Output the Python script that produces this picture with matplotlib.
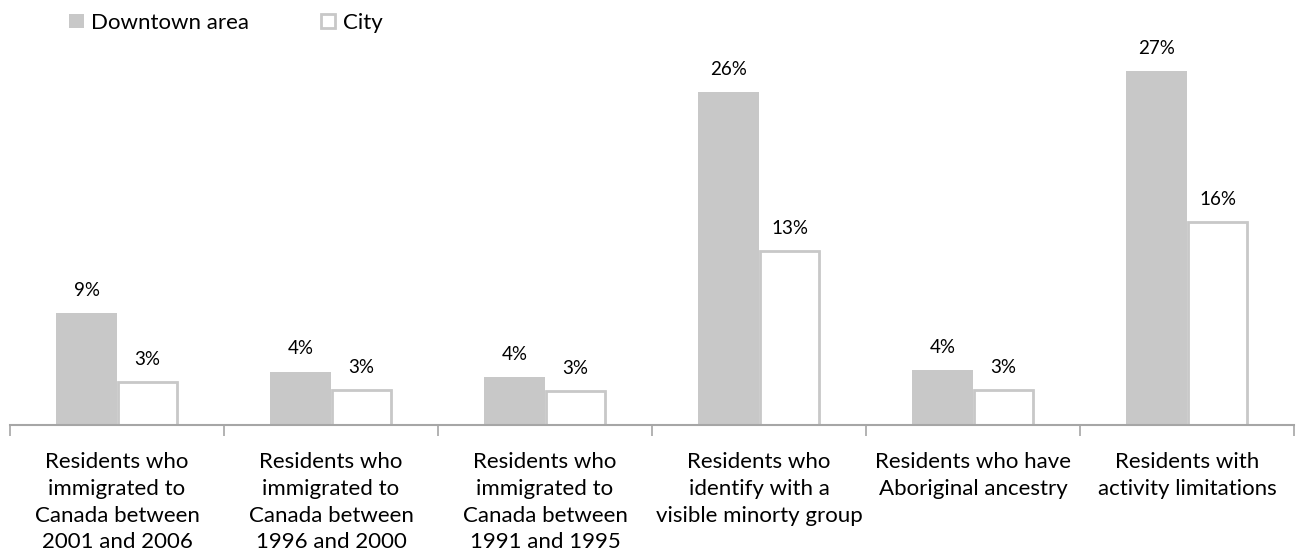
import numpy as np
import matplotlib
matplotlib.use("Agg")
import matplotlib.pyplot as plt
from matplotlib.patches import Rectangle

categories = [
    "Residents who\nimmigrated to\nCanada between\n2001 and 2006",
    "Residents who\nimmigrated to\nCanada between\n1996 and 2000",
    "Residents who\nimmigrated to\nCanada between\n1991 and 1995",
    "Residents who\nidentify with a\nvisible minorty group",
    "Residents who have\nAboriginal ancestry",
    "Residents with\nactivity limitations",
]
downtown = [8.6, 4.1, 3.7, 25.6, 4.2, 27.2]
city = [3.3, 2.7, 2.6, 13.4, 2.7, 15.6]

plt.rcParams["font.family"] = ["Lato", "DejaVu Sans"]

fig = plt.figure(figsize=(12.96, 5.58), dpi=100)
ax = fig.add_axes([10 / 1296, 133 / 558, 1284 / 1296, 416 / 558])

x = np.arange(len(categories))
w = 0.285
gray = "#c8c8c8"

ax.bar(x - w / 2, downtown, w, color=gray, edgecolor="none", label="Downtown area")
ax.bar(x + w / 2, city, w * 0.97, color="white", edgecolor=gray, linewidth=2, label="City")

for xi, v in zip(x, downtown):
    ax.text(xi - w / 2, v + 1.1, f"{v:.0f}%", ha="center", va="bottom", fontsize=13.5)
for xi, v in zip(x, city):
    ax.text(xi + w / 2, v + 1.1, f"{v:.0f}%", ha="center", va="bottom", fontsize=13.5)

ax.set_xlim(-0.5, len(categories) - 0.5)
ax.set_ylim(0, 32)
ax.set_yticks([])
for s in ["top", "right", "left"]:
    ax.spines[s].set_visible(False)
ax.spines["bottom"].set_color("#a6a6a6")
ax.spines["bottom"].set_linewidth(1.5)

# category separators as ticks
ax.set_xticks(np.arange(len(categories) + 1) - 0.5)
ax.set_xticklabels([])
ax.tick_params(axis="x", length=8, width=1.2, color="#a6a6a6", direction="out")
for xi, lab in zip(x, categories):
    ax.text(xi, -2.1, lab, ha="center", va="top", fontsize=16, linespacing=1.42)

leg = fig.legend(handles=[
    Rectangle((0, 0), 1, 1, facecolor=gray, edgecolor="none"),
    Rectangle((0, 0), 1, 1, facecolor="white", edgecolor=gray, linewidth=2)],
    labels=["Downtown area", "City"], loc="upper left", bbox_to_anchor=(0.038, 1.013),
    ncol=2, frameon=False, fontsize=16, handlelength=0.65, handleheight=0.65,
    handletextpad=0.35, columnspacing=3.2)

fig.savefig("out.png", dpi=100)
